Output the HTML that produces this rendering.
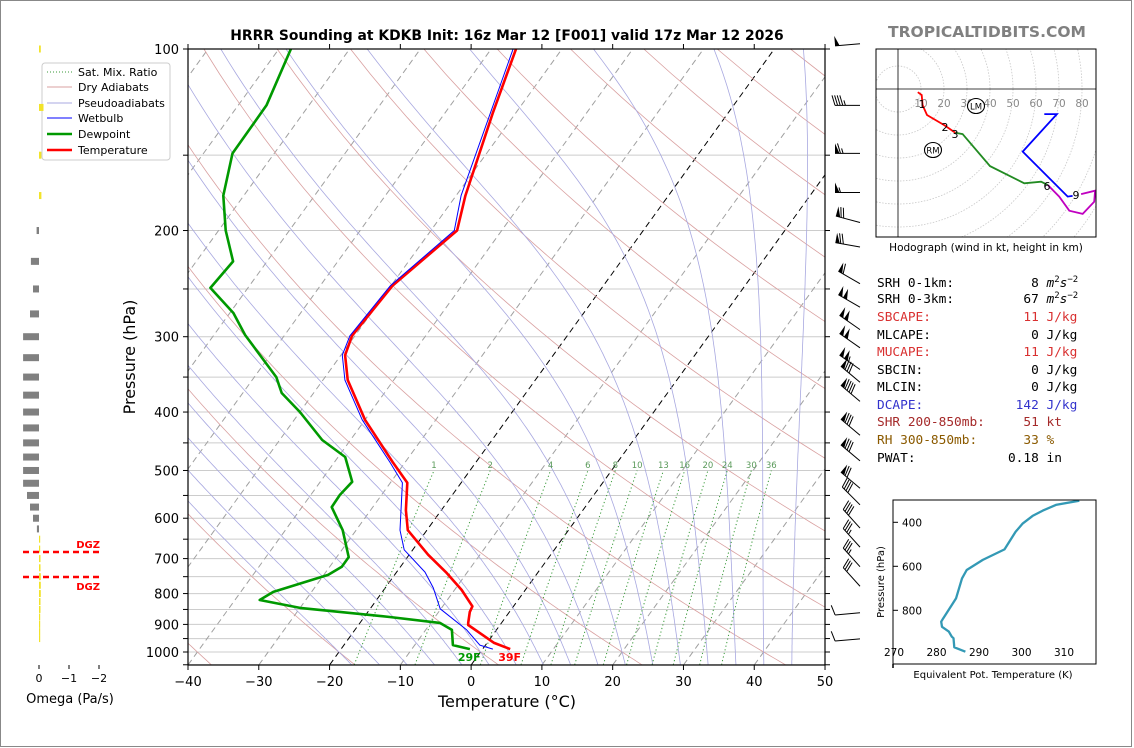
<!DOCTYPE html>
<html><head><meta charset="utf-8"><style>
html,body{margin:0;padding:0;background:#fff}
svg{display:block}
text{font-family:"DejaVu Sans","Liberation Sans",sans-serif}
.mono{font-family:"DejaVu Sans Mono","Liberation Mono",monospace;font-size:12.8px;white-space:pre}
</style></head><body>
<svg id="chart" width="1134" height="748" viewBox="0 0 1134 748" xmlns="http://www.w3.org/2000/svg">
<rect x="0.5" y="0.5" width="1131" height="746" fill="#fff" stroke="#888"/>
<defs>
<clipPath id="plotclip"><rect x="188" y="49" width="637" height="616"/></clipPath>
<clipPath id="hodoclip"><rect x="876" y="49" width="220" height="188"/></clipPath>
<clipPath id="theclip"><rect x="893" y="500" width="203" height="164"/></clipPath>
</defs>
<g id="bg" clip-path="url(#plotclip)"></g>
<g id="prof" clip-path="url(#plotclip)"></g>
<g id="axes"></g>
<text x="507" y="40" text-anchor="middle" font-size="13.9" font-weight="bold">HRRR Sounding at KDKB Init: 16z Mar 12 [F001] valid 17z Mar 12 2026</text>
<text x="987" y="37" text-anchor="middle" font-size="15.5" font-weight="bold" fill="#808080">TROPICALTIDBITS.COM</text>
<text x="507" y="707" text-anchor="middle" font-size="16">Temperature (°C)</text>
<text transform="translate(135,357) rotate(-90)" text-anchor="middle" font-size="16">Pressure (hPa)</text>
<g id="legend">
<rect x="42" y="63" width="128" height="97" rx="3" fill="#fff" fill-opacity="0.85" stroke="#ccc"/>
<line x1="47" y1="72" x2="72" y2="72" stroke="#3a9a3a" stroke-dasharray="1,2"/>
<text x="78" y="76" font-size="11">Sat. Mix. Ratio</text>
<line x1="47" y1="87" x2="72" y2="87" stroke="#d9a0a0"/>
<text x="78" y="91" font-size="11">Dry Adiabats</text>
<line x1="47" y1="103" x2="72" y2="103" stroke="#a8a8e0"/>
<text x="78" y="107" font-size="11">Pseudoadiabats</text>
<line x1="47" y1="118" x2="72" y2="118" stroke="#0000ff"/>
<text x="78" y="122" font-size="11">Wetbulb</text>
<line x1="47" y1="134" x2="72" y2="134" stroke="#009900" stroke-width="2.5"/>
<text x="78" y="138" font-size="11">Dewpoint</text>
<line x1="47" y1="150" x2="72" y2="150" stroke="#ff0000" stroke-width="2.5"/>
<text x="78" y="154" font-size="11">Temperature</text>
</g>
<g id="omega"></g>
<g id="barbs"></g>
<g id="hodo"></g>
<g id="thetae"></g>
<g>
<text class="mono" x="877" y="287">SRH 0-1km:          8 <tspan font-style="italic">m</tspan><tspan font-size="9" dy="-5">2</tspan><tspan font-style="italic" dy="5">s</tspan><tspan font-size="9" dy="-5">−2</tspan></text>
<text class="mono" x="877" y="303">SRH 0-3km:         67 <tspan font-style="italic">m</tspan><tspan font-size="9" dy="-5">2</tspan><tspan font-style="italic" dy="5">s</tspan><tspan font-size="9" dy="-5">−2</tspan></text>
<text class="mono" x="877" y="321" fill="#d93030">SBCAPE:            11 J/kg</text>
<text class="mono" x="877" y="339">MLCAPE:             0 J/kg</text>
<text class="mono" x="877" y="356" fill="#d93030">MUCAPE:            11 J/kg</text>
<text class="mono" x="877" y="374">SBCIN:              0 J/kg</text>
<text class="mono" x="877" y="391">MLCIN:              0 J/kg</text>
<text class="mono" x="877" y="409" fill="#3333cc">DCAPE:            142 J/kg</text>
<text class="mono" x="877" y="426" fill="#a52a2a">SHR 200-850mb:     51 kt</text>
<text class="mono" x="877" y="444" fill="#8b5a00">RH 300-850mb:      33 %</text>
<text class="mono" x="877" y="462">PWAT:            0.18 in</text>
</g>
</svg>
<script>
// ---- Sounding data ----
const tempP = [989,966,902,895,858,840,789,740,690,628,582,524,484,412,354,322,299,247,200,175,128,100];
const tempC = [3.9,1.0,-4.5,-4.7,-5.6,-5.8,-9.0,-12.8,-17.3,-22.7,-25,-27.6,-31.8,-40,-46.5,-49.4,-50.4,-49.8,-46.3,-48.7,-53.2,-56.5];
const dewP = [989,974,919,895,875,845,820,795,745,722,696,628,575,549,522,475,445,400,372,350,298,274,249,225,200,175,149,124,100];
const dewC = [-1.8,-4.6,-6.3,-8.7,-16.4,-30,-36.5,-35.4,-29.4,-28.3,-28.3,-31.9,-35.8,-35.9,-35.5,-39,-44,-50,-54.5,-56.9,-65.6,-69.5,-75.3,-74.8,-79,-82.9,-85.9,-86,-88.3];
const wbP = [989,974,919,848,783,737,677,628,524,484,412,354,322,299,247,200,175,100];
const wbC = [1.45,-0.8,-4.2,-10.1,-13.2,-16,-21.2,-23.8,-28.3,-32.2,-40.4,-46.9,-49.8,-50.7,-50.1,-46.7,-49.3,-56.9];
const xTicks = [-40,-30,-20,-10,0,10,20,30,40,50];
const pLabels = [100,200,300,400,500,600,700,800,900,1000];
const mixRatios = [1,2,4,6,8,10,13,16,20,24,30,36];
// omega
const omegaP = [100,125,150,175,200,225,250,275,300,325,350,375,400,425,450,475,500,525,550,575,600,625,650,675,700,725,750,775,800,825,850,875,900,925,950];
const omegaV = [-0.06,-0.15,-0.08,-0.08,0.08,0.27,0.2,0.3,0.53,0.53,0.53,0.53,0.53,0.53,0.53,0.53,0.53,0.53,0.4,0.3,0.2,0.07,-0.03,-0.04,-0.05,-0.05,-0.06,-0.06,-0.06,-0.05,-0.05,-0.04,-0.04,-0.03,-0.03];
const omegaTicks = [0,-1,-2];
// wind barbs
const barbP = [98,124,149,173,194,213,245,268,292,313,340,357,384,437,482,535,570,623,670,722,778,861,951];
const barbDir = [265,270,270,270,285,280,300,300,305,305,305,310,310,310,310,310,315,318,318,318,318,265,265];
const barbSpd = [50,45,65,55,70,70,60,100,100,100,105,80,90,80,80,70,40,40,35,35,30,10,10];
// hodograph (u,v kt)
const hodoRedU=[8.6,10.3,10.7,12.6,15.1,20.1,24.9];
const hodoRedV=[-1.4,-2.6,-7,-11.3,-12.8,-15.7,-19];
const hodoGreenU=[24.9,28.1,40,54.9,62.2,65.1];
const hodoGreenV=[-19,-19.6,-33.5,-41,-40.3,-41.7];
const hodoMagU=[65.1,70.1,74.5,80.3,85.3,85.7,79.6];
const hodoMagV=[-41.7,-46.8,-52.9,-54.3,-49,-44.2,-45.7];
const hodoBlueU=[75.9,73.8,54.2,69.1,63.6];
const hodoBlueV=[-46.5,-46.8,-27.2,-10.9,-10.9];
const hodoRings=[10,20,30,40,50,60,70,80];
// theta-e
const thetaP=[988,968,927,920,897,875,852,836,776,745,655,617,571,523,443,405,371,347,321,302];
const thetaK=[286.8,284.2,284.0,283.6,282.9,281.3,281.1,281.6,283.6,284.6,286.0,287.1,290.9,296.0,298.6,300.3,302.6,305.0,308.1,313.6];
const thetaXTicks=[270,280,290,300,310];
const thetaYTicks=[400,600,800];

const NS="http://www.w3.org/2000/svg";
function mk(parent,tag,attrs){const e=document.createElementNS(NS,tag);for(const k in attrs)e.setAttribute(k,attrs[k]);parent.appendChild(e);return e;}
function yP(p){return 49+603*Math.log10(p/100);}
function xT(T,p){return 188+(T+40)*7.078+0.722*(665-yP(p));}
function ptsStr(arr){return arr.map(a=>a[0].toFixed(1)+","+a[1].toFixed(1)).join(" ");}

const bg=document.getElementById('bg');
for(let p=150;p<=1050;p+=50){const y=yP(p);const l=mk(bg,'line',{x1:188,x2:825,y1:y,y2:y,stroke:'#cccccc','stroke-width':1});

}
for(let T=-140;T<=50;T+=10){const l=mk(bg,'line',{x1:xT(T,1050),y1:yP(1050),x2:xT(T,100),y2:yP(100),stroke:(T==0||T==-20)?'#000':'#a0a0a0','stroke-width':1,'stroke-dasharray':'6,4'});

}
for(let th=-40;th<=220;th+=20){const pts=[];for(let p=1050;p>=100;p-=10){const T=(th+273.15)*Math.pow(p/1000,0.2857)-273.15;pts.push([xT(T,p),yP(p)]);}
const l=mk(bg,'polyline',{points:ptsStr(pts),fill:'none',stroke:'#d9a0a0','stroke-width':0.8});

}
function es(Tc){return 6.112*Math.exp(17.67*Tc/(Tc+243.5));}
function dTdp(T,p){const Tc=T-273.15;const e=es(Tc);const rs=0.622*e/(p-e);const Rd=287,Cp=1005,Lv=2.5e6;
return (Rd*T+Lv*rs)/(p*(Cp+Lv*Lv*rs*0.622/(Rd*T*T)));}
for(let tw=-20;tw<=44;tw+=4){let pts=[];let T=tw+273.15;
let down=[];let Td=T;for(let p=1000;p<=1050;p+=5){down.push([xT(Td-273.15,p),yP(p)]);Td+=dTdp(Td,p)*5;}
down.reverse();pts=down;
for(let p=1000;p>=100;p-=5){pts.push([xT(T-273.15,p),yP(p)]);T-=dTdp(T,p)*5;}
const l=mk(bg,'polyline',{points:ptsStr(pts),fill:'none',stroke:'#a8a8e0','stroke-width':0.8});

}
function tdFromW(w,p){const e=w*p/(622+w);const g=Math.log(e/6.112);return 243.5*g/(17.67-g);}
mixRatios.forEach(w=>{const pts=[];for(let p=1050;p>=500;p-=10){pts.push([xT(tdFromW(w,p),p),yP(p)]);}
const l=mk(bg,'polyline',{points:ptsStr(pts),fill:'none',stroke:'#3a9a3a','stroke-width':1,'stroke-dasharray':'1.2,2.5'});


const t=mk(bg,'text',{x:xT(tdFromW(w,500),500),y:468,'text-anchor':'middle','font-size':8.5,fill:'#5a9a5a'});t.textContent=String(w);

});

const prof=document.getElementById('prof');
function drawProfile(P,T,color,w,name){const pts=P.map((p,i)=>[xT(T[i],p),yP(p)]);
const l=mk(prof,'polyline',{points:ptsStr(pts),fill:'none',stroke:color,'stroke-width':w,'stroke-linejoin':'round'});

}
drawProfile(dewP,dewC,'#009900',2.6,'dewpoint-line');
drawProfile(tempP,tempC,'#ff0000',2.6,'temperature-line');
drawProfile(wbP,wbC,'#0000ff',1,'wetbulb-line');
const sfcTf=Math.round(tempC[0]*9/5+32), sfcTdf=Math.round(dewC[0]*9/5+32);
const tl=mk(prof,'text',{x:xT(tempC[0],tempP[0])-12,y:661,'font-size':11,'font-weight':'bold',fill:'#ff0000'});tl.textContent=sfcTf+'F';


const dl=mk(prof,'text',{x:xT(dewC[0],dewP[0])-12,y:661,'font-size':11,'font-weight':'bold',fill:'#009900'});dl.textContent=sfcTdf+'F';



const ax=document.getElementById('axes');
mk(ax,'rect',{x:188,y:49,width:637,height:616,fill:'none',stroke:'#000','stroke-width':1.2});
xTicks.forEach(T=>{const x=188+(T+40)*7.078;mk(ax,'line',{x1:x,x2:x,y1:665,y2:670,stroke:'#000'});mk(ax,'line',{x1:x,x2:x,y1:49,y2:44,stroke:'#000'});
const t=mk(ax,'text',{x:x,y:686,'text-anchor':'middle','font-size':13});t.textContent=(T<0?'−':'')+Math.abs(T);

});
for(let p=100;p<=1050;p+=50){const y=yP(p);mk(ax,'line',{x1:183,x2:188,y1:y,y2:y,stroke:'#000'});mk(ax,'line',{x1:825,x2:830,y1:y,y2:y,stroke:'#000'});}
pLabels.forEach(p=>{const t=mk(ax,'text',{x:179,y:yP(p)+5,'text-anchor':'end','font-size':13});t.textContent=p;

});

const om=document.getElementById('omega');
const oX0=39, oS=30;
omegaP.forEach((p,i)=>{const v=omegaV[i];const y=yP(p);const w=Math.max(Math.abs(v)*oS,1.2);
const x=v>0?oX0-w:oX0;
const r=mk(om,'rect',{x:x,y:y-3.5,width:w,height:7,fill:v>0?'#808080':'#f2e32a'});

});
omegaTicks.forEach(v=>{const x=oX0-v*oS;mk(om,'line',{x1:x,x2:x,y1:665,y2:669,stroke:'#000'});
const t=mk(om,'text',{x:x,y:682,'text-anchor':'middle','font-size':11});t.textContent=v<0?'−'+Math.abs(v):String(v);

});
const ot=mk(om,'text',{x:70,y:703,'text-anchor':'middle','font-size':13});ot.textContent='Omega (Pa/s)';


[552,577].forEach((y,i)=>{const l=mk(om,'line',{x1:23,x2:99,y1:y,y2:y,stroke:'#ff0000','stroke-width':2.5,'stroke-dasharray':'6,4'});


const t=mk(om,'text',{x:100,y:i==0?548:590,'text-anchor':'end','font-size':10,'font-weight':'bold',fill:'#ff0000'});t.textContent='DGZ';

});

const bb=document.getElementById('barbs');
barbP.forEach((p,i)=>{const y=yP(p);const ax0=860, ay0=y;const d=barbDir[i]*Math.PI/180;
const sx=Math.sin(d), sy=-Math.cos(d);
const L=25; const tx=ax0+sx*L, ty=ay0+sy*L;
const px=-sy, py=sx;
const g=mk(bb,'g',{});


mk(g,'line',{x1:ax0,y1:ay0,x2:tx,y2:ty,stroke:'#000','stroke-width':1});
let spd=Math.round(barbSpd[i]/5)*5;let pos=0;const bl=10;
while(spd>=50){const bx=tx-sx*pos,by=ty-sy*pos;
mk(g,'polygon',{points:`${bx},${by} ${bx+px*bl},${by+py*bl} ${bx-sx*4.5},${by-sy*4.5}`,fill:'#000'});pos+=5.5;spd-=50;}
while(spd>=10){const bx=tx-sx*pos,by=ty-sy*pos;mk(g,'line',{x1:bx,y1:by,x2:bx+px*bl+sx*3,y2:by+py*bl+sy*3,stroke:'#000','stroke-width':1});pos+=2.6;spd-=10;}
if(spd>=5){if(pos==0)pos=2.6;const bx=tx-sx*pos,by=ty-sy*pos;mk(g,'line',{x1:bx,y1:by,x2:bx+px*5+sx*1.5,y2:by+py*5+sy*1.5,stroke:'#000','stroke-width':1});}
});

const hd=document.getElementById('hodo');
const hx0=898, hy0=89, hs=2.3;
const hin=mk(hd,'g',{'clip-path':'url(#hodoclip)'});
for(let r=10;r<=140;r+=10){const c=mk(hin,'circle',{cx:hx0,cy:hy0,r:r*hs,fill:'none',stroke:'#c8c8c8','stroke-width':0.8,'stroke-dasharray':'1.5,1.5'});

}
mk(hin,'line',{x1:876,x2:1096,y1:hy0,y2:hy0,stroke:'#000','stroke-width':0.8});
mk(hin,'line',{x1:hx0,x2:hx0,y1:49,y2:237,stroke:'#000','stroke-width':0.8});
hodoRings.forEach(k=>{const t=mk(hin,'text',{x:hx0+k*hs,y:107,'text-anchor':'middle','font-size':10.5,fill:'#888'});t.textContent=k;

});
function hodoLine(U,V,col,name){const pts=U.map((u,i)=>[hx0+u*hs,hy0-V[i]*hs]);
const l=mk(hin,'polyline',{points:ptsStr(pts),fill:'none',stroke:col,'stroke-width':1.8});

}
hodoLine(hodoRedU,hodoRedV,'#ff0000','hodograph-0-3km');
hodoLine(hodoGreenU,hodoGreenV,'#228b22','hodograph-3-6km');
hodoLine(hodoMagU,hodoMagV,'#c000c0','hodograph-6-9km');
hodoLine(hodoBlueU,hodoBlueV,'#0000ff','hodograph-9-12km');
[['1',922,108],['2',945,131],['3',955,138],['6',1047,190],['9',1076,199]].forEach(a=>{const t=mk(hin,'text',{x:a[1],y:a[2],'text-anchor':'middle','font-size':11});t.textContent=a[0];

});
[['LM',976,106],['RM',933,150]].forEach(a=>{mk(hin,'ellipse',{cx:a[1],cy:a[2],rx:8.5,ry:7.5,fill:'#fff',stroke:'#000','stroke-width':1.1});
const t=mk(hin,'text',{x:a[1],y:a[2]+3.5,'text-anchor':'middle','font-size':8.5});t.textContent=a[0];

});
mk(hd,'rect',{x:876,y:49,width:220,height:188,fill:'none',stroke:'#000','stroke-width':1});
const hc=mk(hd,'text',{x:986,y:251,'text-anchor':'middle','font-size':10.5});hc.textContent='Hodograph (wind in kt, height in km)';



const te=document.getElementById('thetae');
function tx_(k){return 894+(k-270)*4.25;}
function ty_(p){return 522.3+(p-400)*0.22;}
const tin=mk(te,'g',{'clip-path':'url(#theclip)'});
const tl2=mk(tin,'polyline',{points:ptsStr(thetaP.map((p,i)=>[tx_(thetaK[i]),ty_(p)])),fill:'none',stroke:'#3399b5','stroke-width':2.3,'stroke-linejoin':'round'});


mk(te,'rect',{x:893,y:500,width:203,height:164,fill:'none',stroke:'#000','stroke-width':1});
mk(te,'line',{x1:893,x2:893,y1:664,y2:668,stroke:'#000','stroke-width':1.5});
thetaYTicks.forEach(p=>{const y=ty_(p);mk(te,'line',{x1:893,x2:898,y1:y,y2:y,stroke:'#000'});
const t=mk(te,'text',{x:902,y:y+4,'font-size':10.5});t.textContent=p;

});
thetaXTicks.forEach(k=>{const t=mk(te,'text',{x:tx_(k),y:656,'text-anchor':'middle','font-size':10.5});t.textContent=k;

});
const tyl=mk(te,'text',{transform:'translate(884,582) rotate(-90)','text-anchor':'middle','font-size':10});tyl.textContent='Pressure (hPa)';


const txl=mk(te,'text',{x:993,y:678,'text-anchor':'middle','font-size':10});txl.textContent='Equivalent Pot. Temperature (K)';


</script>
</body></html>
